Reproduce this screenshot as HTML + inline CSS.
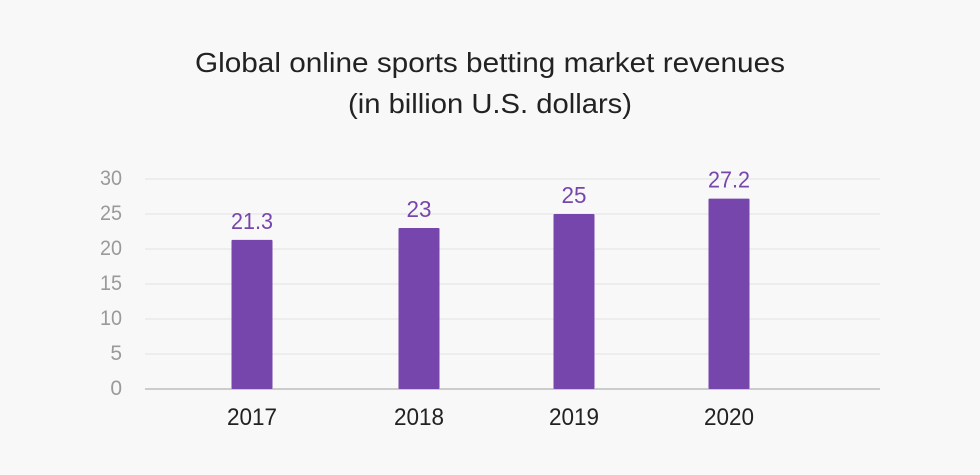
<!DOCTYPE html>
<html><head><meta charset="utf-8">
<style>
html,body{margin:0;padding:0;background:#f8f8f8;}
svg{display:block;font-family:"Liberation Sans",sans-serif;}
</style></head>
<body>
<svg id="chart" width="980" height="475" viewBox="0 0 980 475">
  <rect x="0" y="0" width="980" height="475" fill="#f8f8f8"/>
  <text x="490" y="72" text-anchor="middle" font-size="28" fill="#222" textLength="590" lengthAdjust="spacingAndGlyphs">Global online sports betting market revenues</text>
  <text x="490" y="113" text-anchor="middle" font-size="28" fill="#222" textLength="284" lengthAdjust="spacingAndGlyphs">(in billion U.S. dollars)</text>
  <g id="grid"></g>
  <g id="bars"></g>
</svg>
<script>
const categories = ["2017","2018","2019","2020"];
const values = [21.3, 23, 25, 27.2];
const valueLabels = ["21.3","23","25","27.2"];
const yTicks = [0,5,10,15,20,25,30];

const NS = "http://www.w3.org/2000/svg";
const x0 = 145, x1 = 880, yBase = 389, yTop = 179, yMax = 30;
const barW = 41;
function y(v){ return yBase - (v / yMax) * (yBase - yTop); }
function xc(i){ return 252 + i * 155 + (i > 0 ? 12 : 0); }
function mk(tag, attrs, parent){
  const el = document.createElementNS(NS, tag);
  for (const k in attrs) el.setAttribute(k, attrs[k]);
  parent.appendChild(el);
  return el;
}
const grid = document.getElementById('grid');
const bars = document.getElementById('bars');
yTicks.forEach(t => {
  const ln = mk('line', {x1:x0, x2:x1, y1:y(t), y2:y(t), stroke: t===0?'#bdbdbd':'#e2e2e2', 'stroke-width': t===0?1.5:1}, grid);
  
  
  const tx = mk('text', {x:122, y:y(t)+6, 'text-anchor':'end', 'font-size':21, fill:'#9a9a9a'}, grid);
  tx.textContent = String(t);
  if (String(t).length > 1) { tx.setAttribute('textLength', 22); tx.setAttribute('lengthAdjust', 'spacingAndGlyphs'); }
  
  
});
categories.forEach((c, i) => {
  const r = mk('rect', {x:xc(i)-barW/2, y:y(values[i]), width:barW, height:yBase-y(values[i]), fill:'#7746ad', rx:1}, bars);
  
  
  const vl = mk('text', {x:xc(i), y:y(values[i])-11, 'text-anchor':'middle', 'font-size':23, fill:'#7746ad', textLength: valueLabels[i].length > 2 ? 42 : 25, lengthAdjust:'spacingAndGlyphs'}, bars);
  vl.textContent = valueLabels[i];
  
  
  const xl = mk('text', {x:xc(i), y:425, 'text-anchor':'middle', 'font-size':24, fill:'#222', textLength:50, lengthAdjust:'spacingAndGlyphs'}, bars);
  xl.textContent = c;
  
  
});
</script>
</body></html>
